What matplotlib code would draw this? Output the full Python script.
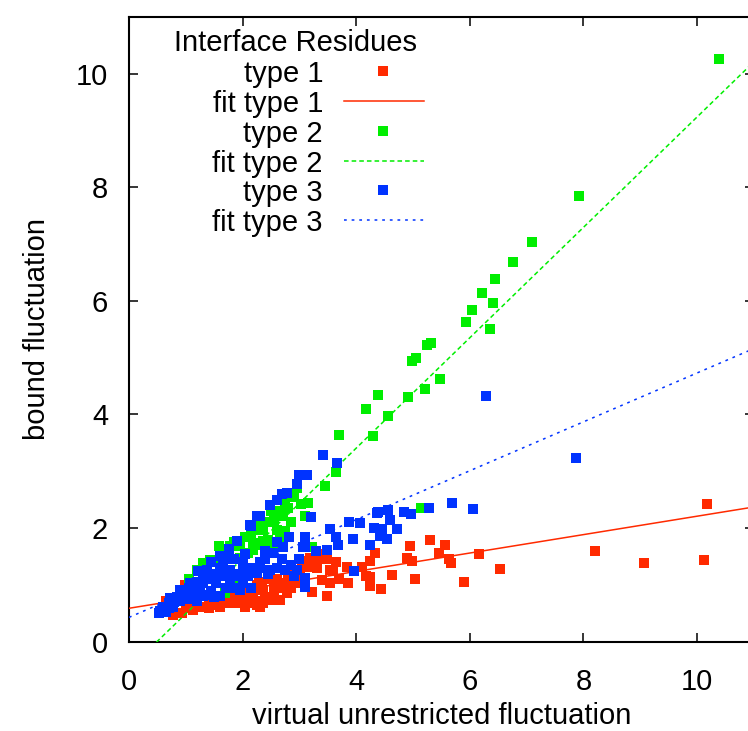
import numpy as np
import matplotlib
matplotlib.use("Agg")
import matplotlib.pyplot as plt

plt.rcParams['font.family'] = ['Liberation Sans', 'DejaVu Sans']
plt.rcParams['font.size'] = 21

# type 1 residues (red)
type1_x = [0.60, 0.66, 0.75, 0.78, 0.93, 0.93, 0.99, 1.13, 1.31, 1.54, 1.78, 2.01, 2.25, 2.13, 2.28,
           1.90, 1.10, 1.40, 1.65, 1.95, 2.25, 2.19, 2.25, 2.36, 2.36, 2.48, 2.66, 2.78, 2.72, 2.95,
           3.01, 3.22, 3.48, 3.40, 3.54, 3.86, 3.19, 3.36, 3.48, 3.13, 3.31, 3.53, 3.83, 4.10, 4.17,
           4.33, 4.24, 4.24, 4.24, 4.44, 4.63, 5.04, 4.95, 5.30, 5.56, 5.46, 4.89, 4.98, 5.63, 5.67,
           6.16, 6.53, 5.90, 8.20, 9.07, 10.12, 10.18, 2.55, 2.60, 2.85, 3.05, 3.65,
           1.00, 1.20, 1.40, 1.60, 1.70, 1.90, 2.05, 2.15, 2.30, 2.40, 2.55, 2.70, 2.80, 2.90,
           3.10, 3.25, 3.40, 3.60, 3.70, 2.00, 1.85, 2.35, 2.50]
type1_y = [0.58, 0.71, 0.77, 0.47, 0.50, 0.88, 1.00, 0.56, 0.62, 0.65, 0.68, 0.74, 0.71, 0.91, 1.03,
           0.86, 0.70, 0.70, 0.72, 0.80, 0.65, 0.83, 1.00, 0.68, 0.91, 0.74, 0.74, 0.86, 1.03, 1.03,
           1.21, 0.87, 0.81, 1.09, 1.03, 1.03, 1.48, 1.48, 1.45, 1.32, 1.30, 1.27, 1.32, 1.32, 1.15,
           1.57, 1.43, 1.14, 0.98, 0.93, 1.18, 1.11, 1.69, 1.80, 1.71, 1.57, 1.48, 1.42, 1.46, 1.39,
           1.55, 1.28, 1.05, 1.60, 1.39, 1.44, 2.43, 0.95, 1.10, 0.95, 1.35, 1.40,
           0.60, 0.62, 0.60, 0.62, 0.70, 0.68, 0.62, 0.68, 0.62, 0.78, 0.80, 0.95, 1.12, 1.25,
           1.42, 1.40, 1.55, 1.25, 1.10, 0.85, 0.78, 1.05, 1.10]

# type 2 residues (green)
type2_x = [10.38, 7.92, 7.09, 6.76, 6.44, 6.21, 6.04, 5.93, 6.41, 6.36, 5.31, 5.25, 5.06, 4.98, 5.48,
           5.21, 4.91, 4.38, 4.17, 4.56, 4.29, 3.70, 3.64, 3.45, 3.02, 2.74, 3.09, 2.71, 2.86, 2.36,
           2.60, 2.36, 2.48, 2.18, 3.22, 5.14, 2.28, 2.28, 2.19, 2.10, 1.95, 1.78, 1.95, 1.66, 1.59,
           1.48, 1.43, 1.31, 1.19, 1.69, 1.92, 2.10, 2.55, 2.45, 2.65, 0.90, 1.05, 2.00,
           2.05, 2.15, 2.30, 2.45, 2.50, 2.65, 2.80, 2.90, 2.95, 1.85, 1.70, 2.55, 2.75, 3.15]
type2_y = [10.26, 7.85, 7.03, 6.69, 6.38, 6.13, 5.83, 5.62, 5.97, 5.50, 5.25, 5.22, 5.00, 4.94, 4.62,
           4.44, 4.30, 4.34, 4.09, 3.97, 3.63, 3.64, 2.98, 2.74, 2.42, 2.47, 2.21, 2.21, 2.11, 1.97,
           1.97, 1.77, 1.62, 1.62, 1.66, 2.36, 1.97, 1.71, 1.74, 1.56, 1.68, 1.68, 1.47, 1.59, 1.68,
           1.41, 1.44, 1.38, 1.27, 0.86, 1.03, 1.25, 2.15, 1.80, 1.85, 0.90, 1.10, 1.20,
           1.85, 1.90, 2.05, 2.10, 2.30, 2.30, 2.35, 2.55, 2.70, 1.75, 1.55, 1.70, 1.95, 2.45]

# type 3 residues (blue)
type3_x = [6.29, 7.87, 3.42, 3.66, 2.99, 3.13, 3.07, 2.95, 2.78, 2.48, 2.31, 2.26, 2.14, 2.13, 1.90,
           1.76, 1.61, 2.81, 3.09, 3.06, 2.71, 2.54, 3.54, 3.64, 3.68, 3.94, 3.88, 4.07, 4.36, 4.24,
           3.49, 3.09, 3.96, 2.95, 3.10, 3.10, 2.48, 2.75, 2.25, 4.38, 4.56, 4.84, 4.96, 5.28, 5.69,
           6.06, 4.60, 4.31, 4.45, 4.71, 4.42, 4.54, 1.37, 1.22, 1.78, 2.01, 2.22, 1.07, 1.31, 1.54,
           1.78, 2.01, 0.90, 1.13, 1.37, 1.60, 1.95, 0.72, 0.90, 1.19, 0.60, 0.78, 0.52, 0.66, 2.70,
           2.40, 1.50, 1.65, 1.45, 1.20, 0.95, 0.70, 1.85, 2.05, 2.30, 2.60, 2.70,
           0.55, 0.62, 0.70, 0.80, 0.85, 1.00, 1.05, 1.15, 1.25, 1.30, 1.45, 1.60, 1.70, 1.85,
           1.95, 2.10, 2.15, 2.30, 1.70, 1.85, 2.15, 1.45, 1.05, 1.30, 1.50, 2.45, 2.60, 2.85,
           3.00, 3.30, 2.90, 3.20, 2.00, 1.75, 1.60, 2.40, 2.60]
type3_y = [4.32, 3.24, 3.28, 3.14, 2.94, 2.94, 2.94, 2.77, 2.62, 2.41, 2.21, 2.21, 2.03, 2.06, 1.78,
           1.63, 1.51, 1.85, 1.85, 1.67, 1.67, 1.57, 1.99, 1.85, 1.71, 1.81, 2.10, 2.09, 2.27, 1.71,
           1.62, 1.67, 1.24, 1.27, 1.12, 0.97, 1.27, 1.27, 1.21, 2.28, 2.32, 2.29, 2.25, 2.36, 2.45,
           2.34, 2.14, 2.01, 1.99, 1.99, 1.87, 1.81, 1.27, 1.24, 1.27, 1.27, 1.27, 1.03, 1.03, 1.03,
           1.03, 1.03, 0.91, 0.86, 0.83, 0.80, 0.91, 0.77, 0.71, 0.71, 0.62, 0.62, 0.50, 0.53, 1.45,
           1.45, 1.20, 1.35, 1.40, 1.05, 0.80, 0.68, 1.45, 1.55, 1.40, 2.50, 2.60,
           0.55, 0.58, 0.60, 0.70, 0.78, 0.85, 0.95, 0.95, 0.95, 1.15, 1.10, 1.15, 1.20, 1.15,
           1.20, 1.15, 1.30, 1.30, 0.95, 0.95, 0.95, 0.90, 0.75, 0.80, 0.78, 1.20, 1.30, 1.35,
           1.45, 1.60, 1.15, 2.20, 1.40, 1.45, 1.30, 1.60, 1.75]

# linear fits: intercept, slope
fit_intercepts = [0.59, -0.476, 0.43]
fit_slopes = [0.162, 0.971, 0.43]

labels = ["type 1", "type 2", "type 3"]
colors = ["#ff2a00", "#00ee00", "#0033ff"]
dashes = [None, (3, 2), (1.8, 3.2)]

fig = plt.figure(figsize=(7.48, 7.31), dpi=100)
W, H = 748, 731
left, right, top, bottom = 129, 753.8, 16.7, 641.8
ax = fig.add_axes([left / W, (H - bottom) / H, (right - left) / W, (bottom - top) / H])

xs = [type1_x, type2_x, type3_x]
ys = [type1_y, type2_y, type3_y]
xfit = np.array([0, 11])
for i in range(3):
    ax.scatter(xs[i], ys[i], marker='s', s=58, color=colors[i], linewidths=0, zorder=2 + 2 * i)
    line, = ax.plot(xfit, fit_intercepts[i] + fit_slopes[i] * xfit, color=colors[i], lw=1.1,
                    zorder=3 + 2 * i)
    if dashes[i] is not None:
        line.set_dashes(dashes[i])

ax.set_xlim(0, 11)
ax.set_ylim(0, 11)
ax.set_xticks([0, 2, 4, 6, 8, 10])
ax.set_yticks([0, 2, 4, 6, 8, 10])
ax.tick_params(direction='in', length=6.5, width=1.1, top=True, right=True)
ax.tick_params(axis='x', pad=19)
ax.tick_params(axis='y', pad=15)
for sp in ax.spines.values():
    sp.set_linewidth(1.5)

ax.set_xlabel("virtual unrestricted fluctuation")
ax.set_ylabel("bound fluctuation")
ax.xaxis.set_label_coords(0.5, -0.096)
ax.yaxis.set_label_coords(-0.125, 0.5)


# legend drawn by hand, gnuplot style
def fx(px):
    return (px - left) / (right - left)


def fy(py):
    return (bottom - py) / (bottom - top)


ax.text(fx(295), fy(50.7), "Interface Residues", transform=ax.transAxes, ha='center', va='baseline')
rows = [70.7, 100.7, 130.7, 160.7, 190.3, 220.0]
for i in range(3):
    r1, r2 = rows[2 * i], rows[2 * i + 1]
    ax.text(fx(323), fy(r1 + 11), labels[i], transform=ax.transAxes, ha='right', va='baseline')
    ax.text(fx(323), fy(r2 + 11), "fit " + labels[i], transform=ax.transAxes, ha='right', va='baseline')
    ax.plot([fx(383.3)], [fy(r1)], marker='s', ms=7.4, mew=0, color=colors[i],
            transform=ax.transAxes, clip_on=False)
    ln, = ax.plot([fx(344), fx(424)], [fy(r2), fy(r2)], color=colors[i], lw=1.1,
                  transform=ax.transAxes, clip_on=False)
    if dashes[i] is not None:
        ln.set_dashes(dashes[i])

fig.savefig("out.png", dpi=100)
